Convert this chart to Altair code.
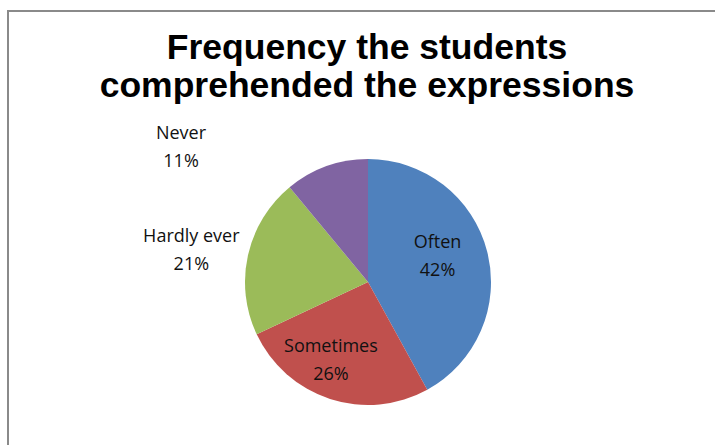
import altair as alt
import pandas as pd

categories = ["Often", "Sometimes", "Hardly ever", "Never"]
values = [42, 26, 21, 11]
colors = ["#4F81BD", "#C0504D", "#9BBB59", "#8064A2"]
title_lines = ["Frequency the students", "comprehended the expressions"]

df = pd.DataFrame({
    "category": categories,
    "value": values,
    "idx": list(range(len(categories))),
})
df["label"] = [f"{c}\n{v}%" for c, v in zip(categories, values)]

W, H = 707, 434
CX, CY = 360, 271

base = alt.Chart(df).encode(
    theta=alt.Theta("value:Q", stack=True),
    order=alt.Order("idx:Q"),
    x=alt.value(CX),
    y=alt.value(CY),
)

pie = base.mark_arc(outerRadius=123).encode(
    color=alt.Color("category:N",
                    scale=alt.Scale(domain=categories, range=colors),
                    legend=None)
)

text_style = dict(font="Open Sans", fontSize=18, color="#111111",
                  lineBreak="\n", lineHeight=28, align="center", baseline="middle")

# label placement per category: (radius, dx, dy)
placement = {
    "Often": (78, -6, -20),
    "Sometimes": (78, -13, -9),
    "Hardly ever": (180, -1, -6),
    "Never": (180, -126, 21),
}

layers = [pie]
for cat, (r, dx, dy) in placement.items():
    layers.append(
        base.transform_calculate(
            t=f"datum.category == '{cat}' ? datum.label : ''"
        ).mark_text(radius=r, dx=dx, dy=dy, **text_style).encode(text="t:N")
    )

# chart frame (left and top edges; right and bottom lie outside the window)
frame_src = alt.Chart(pd.DataFrame({"f": [0]}))
left_edge = frame_src.mark_rule(color="#8a8a8a", strokeWidth=2).encode(
    x=alt.value(0), y=alt.value(-1), y2=alt.value(H + 20)
)
top_edge = frame_src.mark_rule(color="#8a8a8a", strokeWidth=2).encode(
    y=alt.value(0), x=alt.value(-1), x2=alt.value(W + 20)
)
layers += [left_edge, top_edge]

chart = alt.layer(*layers).properties(
    width=W,
    height=H,
    background="white",
    padding={"left": 8, "top": 11, "right": 0, "bottom": 0},
    autosize=alt.AutoSizeParams(type="none"),
    title=alt.TitleParams(
        text=title_lines,
        font="Liberation Sans",
        fontSize=35.5,
        fontWeight="bold",
        color="#000000",
        lineHeight=38,
        anchor="middle",
        baseline="top",
        offset=-95,
        dx=5.5,
    ),
).configure_view(
    strokeWidth=0,
)

chart.save("out.html", embed_options={"renderer": "svg", "actions": False})
